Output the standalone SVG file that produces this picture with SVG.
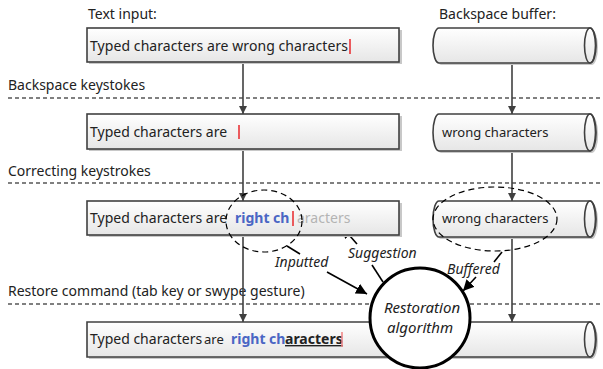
<svg xmlns="http://www.w3.org/2000/svg" width="603" height="369" viewBox="0 0 603 369">
<defs>
<linearGradient id="g" x1="0" y1="0" x2="0" y2="1">
<stop offset="0" stop-color="#ffffff"/>
<stop offset="1" stop-color="#e6e6e6"/>
</linearGradient>
<marker id="ah" viewBox="0 0 10 10" refX="10" refY="5" markerWidth="8" markerHeight="8" markerUnits="userSpaceOnUse" orient="auto">
<path d="M0,0 L10,5 L0,10 z" fill="#404040"/>
</marker>
<marker id="ahb" viewBox="0 0 10 10" refX="10" refY="5" markerWidth="11" markerHeight="11" markerUnits="userSpaceOnUse" orient="auto">
<path d="M0,0 L10,5 L0,10 z" fill="#000"/>
</marker>
</defs>
<style>
text{font-family:"Noto Sans","Open Sans",sans-serif;fill:#222}
.lbl{font-size:14px}
.bx{font-size:14px}
.cy{font-size:13px}
.box{fill:url(#g);stroke:#404040;stroke-width:1.6}
.sh{fill:#c8c8c8}
.sep{stroke:#808080;stroke-width:2;stroke-dasharray:4 3;fill:none}
.ar{stroke:#404040;stroke-width:1.6;fill:none;marker-end:url(#ah)}
.arb{stroke:#000;stroke-width:1.6;fill:none;marker-end:url(#ahb)}
.ln{stroke:#000;stroke-width:1.6;fill:none}
.dsh{stroke:#000;stroke-width:1.2;stroke-dasharray:6 4;fill:none}
.cur{stroke:#e8272b;stroke-width:1.5}
.blue{fill:#4a66c4;font-weight:bold}
.gray{fill:#b4b4b4}
.it{font-style:italic;font-size:14px}
</style>

<g id="labels">
<text class="lbl" x="88" y="19">Text input:</text>
<text class="lbl" x="439" y="19">Backspace buffer:</text>
<text class="lbl" x="8" y="90">Backspace keystokes</text>
<text class="lbl" x="8" y="176">Correcting keystrokes</text>
<text class="lbl" x="8" y="296">Restore command (tab key or swype gesture)</text>
</g>

<g id="separators">
<line class="sep" x1="8" y1="98" x2="603" y2="98"/>
<line class="sep" x1="8" y1="183" x2="603" y2="183"/>
<line class="sep" x1="8" y1="304" x2="603" y2="304"/>
</g>

<g id="connectors">
<line class="ar" x1="243" y1="62" x2="243" y2="114"/>
<line class="ar" x1="243" y1="149" x2="243" y2="201"/>
<line class="ar" x1="243" y1="235" x2="243" y2="322"/>
<line class="ar" x1="512" y1="63" x2="512" y2="114"/>
<line class="ar" x1="512" y1="151" x2="512" y2="201"/>
<line class="ar" x1="512" y1="237" x2="512" y2="322"/>
<line class="ln" x1="287" y1="246" x2="300" y2="254"/>
<line class="arb" x1="327" y1="272" x2="367" y2="294"/>
<line class="ln" x1="383" y1="282" x2="372" y2="265"/>
<line class="arb" x1="357" y1="244" x2="342" y2="227"/>
<line class="ln" x1="502" y1="252" x2="494" y2="262"/>
<line class="arb" x1="476" y1="277" x2="463" y2="291"/>
</g>

<g id="box1">
<rect class="sh" x="89" y="30" width="313" height="34"/>
<rect class="box" x="87" y="28" width="312" height="34"/>
<text class="bx" x="90" y="51" textLength="258" lengthAdjust="spacing">Typed characters are wrong characters</text>
<line class="cur" x1="350" y1="39" x2="350" y2="54"/>
</g>

<g id="box2">
<rect class="sh" x="89" y="116" width="313" height="35"/>
<rect class="box" x="87" y="114" width="312" height="35"/>
<text class="bx" x="90" y="137">Typed characters are</text>
<line class="cur" x1="239" y1="125" x2="239" y2="139"/>
</g>

<g id="box3">
<rect class="sh" x="89" y="203" width="313" height="34"/>
<rect class="box" x="87" y="201" width="312" height="34"/>
<text class="bx" x="90" y="223">Typed characters are</text>
<text class="bx blue" x="235" y="223">right ch</text>
<line class="cur" x1="293" y1="211" x2="293" y2="226"/>
<text class="bx gray" x="297" y="223">aracters</text>
</g>

<g id="box4">
<path class="sh" d="M89,324 H592 A6,17.5 0 0 1 592,359 H89 z"/>
<path class="box" d="M87,322 H590 A6,17.5 0 0 1 590,357 H87 z"/>
<ellipse cx="590" cy="339.5" rx="5.5" ry="17.5" fill="none" stroke="#404040" stroke-width="1.6"/>
<text class="bx" x="90" y="344">Typed characters</text>
<text class="bx" x="204" y="344" style="font-size:13px">are</text>
<text class="bx blue" x="231" y="344">right ch</text>
<text class="bx" x="285" y="344" style="font-weight:bold;text-decoration:underline">aracters</text>
<line class="cur" x1="342" y1="332" x2="342" y2="347" style="stroke:#f08080"/>
</g>

<g id="cyl1">
<path class="sh" d="M441,30 H592 A6,17.5 0 0 1 592,65 H441 A6,17.5 0 0 1 441,30 z"/>
<path class="box" d="M439,28 H590 A6,17.5 0 0 1 590,63 H439 A6,17.5 0 0 1 439,28 z"/>
<ellipse cx="590" cy="45.5" rx="5.5" ry="17.5" fill="none" stroke="#404040" stroke-width="1.6"/>
</g>

<g id="cyl2">
<path class="sh" d="M441,116 H592 A6,18 0 0 1 592,153 H441 A6,18 0 0 1 441,116 z"/>
<path class="box" d="M439,114 H590 A6,18.5 0 0 1 590,151 H439 A6,18.5 0 0 1 439,114 z"/>
<ellipse cx="590" cy="132.5" rx="5.5" ry="18.5" fill="none" stroke="#404040" stroke-width="1.6"/>
<text class="cy" x="442" y="137">wrong characters</text>
</g>

<g id="cyl3">
<path class="sh" d="M441,203 H592 A6,18 0 0 1 592,239 H441 A6,18 0 0 1 441,203 z"/>
<path class="box" d="M439,201 H590 A6,18 0 0 1 590,237 H439 A6,18 0 0 1 439,201 z"/>
<ellipse cx="590" cy="219" rx="5.5" ry="18" fill="none" stroke="#404040" stroke-width="1.6"/>
<text class="cy" x="442" y="223">wrong characters</text>
</g>

<g id="highlights">
<ellipse class="dsh" cx="264" cy="221" rx="38" ry="31"/>
<ellipse class="dsh" cx="495" cy="219" rx="62" ry="32"/>
</g>

<g id="edge-labels">
<text class="it" x="275" y="267">Inputted</text>
<text class="it" x="348" y="258">Suggestion</text>
<text class="it" x="447" y="274">Buffered</text>
</g>

<g id="restoration">
<circle cx="420" cy="318" r="50" fill="#fff" stroke="#000" stroke-width="3"/>
<text class="it" x="422" y="313" text-anchor="middle" style="font-size:15px">Restoration</text>
<text class="it" x="420" y="333" text-anchor="middle" style="font-size:15px">algorithm</text>
</g>
</svg>
